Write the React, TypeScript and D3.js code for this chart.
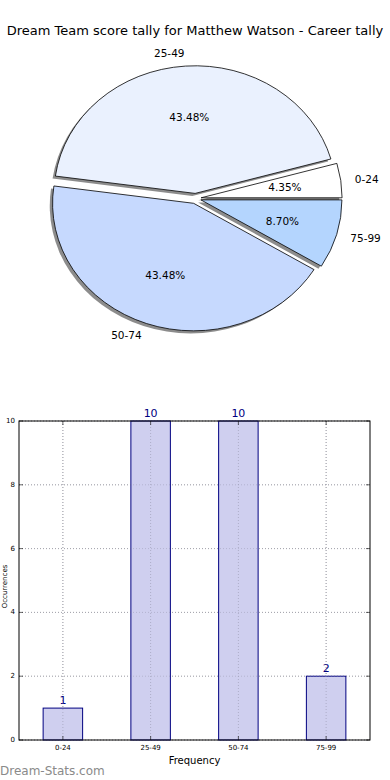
import React from 'react';
import * as d3 from 'd3';

const categories = ['0-24', '25-49', '50-74', '75-99'];
const counts = [1, 10, 10, 2];
const sliceColors = ['#ffffff', '#eaf1fe', '#c6d9fe', '#b4d5fe'];
const yTicks = [0, 2, 4, 6, 8, 10];

const W = 390;
const H = 780;
const FONT = 'DejaVu Sans, sans-serif';

const PieChart: React.FC = () => {
  const cx = 195.5;
  const cy = 198.5;
  const rx = 141;
  const ry = 127.5;
  const explode = 0.04;
  const shadow = 0.02;
  const total = d3.sum(counts);

  // matplotlib style: start at 3 o'clock, counter-clockwise
  const pie = d3.pie<number>().sort(null).startAngle(Math.PI / 2).endAngle(Math.PI / 2 - 2 * Math.PI);
  const arcs = pie(counts);
  const arc = d3.arc<d3.PieArcDatum<number>>().innerRadius(0).outerRadius(1);

  return (
    <g>
      {arcs.map((d, i) => {
        const mid = (d.startAngle + d.endAngle) / 2;
        const dx = Math.sin(mid) * explode * rx;
        const dy = -Math.cos(mid) * explode * ry;
        return (
          <path
            key={'s' + i}
            d={arc(d) || ''}
            transform={`translate(${cx + dx - shadow * rx},${cy + dy + shadow * ry}) scale(${rx},${ry})`}
            fill="#000"
            opacity={0.45}
          />
        );
      })}
      {arcs.map((d, i) => {
        const mid = (d.startAngle + d.endAngle) / 2;
        const dx = Math.sin(mid) * explode * rx;
        const dy = -Math.cos(mid) * explode * ry;
        return (
          <path
            key={'p' + i}
            d={arc(d) || ''}
            transform={`translate(${cx + dx},${cy + dy}) scale(${rx},${ry})`}
            fill={sliceColors[i]}
            stroke="#000"
            strokeWidth={0.8}
            vectorEffect="non-scaling-stroke"
          />
        );
      })}
      {arcs.map((d, i) => {
        const mid = (d.startAngle + d.endAngle) / 2;
        const s = Math.sin(mid);
        const c = -Math.cos(mid);
        const dx = s * explode * rx;
        const dy = c * explode * ry;
        return (
          <g key={'l' + i} fontFamily={FONT} fontSize={10.5} fill="#000">
            <text
              x={cx + dx + 1.1 * rx * s}
              y={cy + dy + 1.1 * ry * c}
              textAnchor={s > 0 ? 'start' : 'end'}
              dominantBaseline="central"
            >
              {categories[i]}
            </text>
            <text
              x={cx + dx + 0.6 * rx * s}
              y={cy + dy + 0.6 * ry * c}
              textAnchor="middle"
              dominantBaseline="central"
            >
              {((counts[i] / total) * 100).toFixed(2) + '%'}
            </text>
          </g>
        );
      })}
    </g>
  );
};

const BarChart: React.FC = () => {
  const left = 19;
  const right = 370;
  const top = 421;
  const bottom = 740;
  const x = d3.scaleLinear().domain([-0.5, 3.5]).range([left, right]);
  const y = d3.scaleLinear().domain([0, 10]).range([bottom, top]);
  const barW = 0.45;

  return (
    <g fontFamily={FONT}>
      {/* grid */}
      {yTicks.map(t => (
        <line key={'gy' + t} x1={left} x2={right} y1={y(t)} y2={y(t)} stroke="#b0b0b0" strokeDasharray="1,2" />
      ))}
      {categories.map((c, i) => (
        <line key={'gx' + c} x1={x(i)} x2={x(i)} y1={top} y2={bottom} stroke="#b0b0b0" strokeDasharray="1,2" />
      ))}
      {/* bars */}
      {counts.map((v, i) => (
        <g key={'b' + i}>
          <rect
            x={x(i - barW / 2)}
            y={y(v)}
            width={x(barW) - x(0)}
            height={y(0) - y(v)}
            fill="#ccccee"
            fillOpacity={0.95}
            stroke="#000080"
            strokeWidth={1}
          />
          <text x={x(i)} y={y(v) - 4} textAnchor="middle" fontSize={11} fill="#000080">
            {v}
          </text>
        </g>
      ))}
      {/* grid shows through the bars */}
      {categories.map((c, i) => (
        <line key={'gx2' + c} x1={x(i)} x2={x(i)} y1={top} y2={bottom} stroke="#9090a8" strokeOpacity={0.5} strokeDasharray="1,2" />
      ))}
      {yTicks.map(t => (
        <line key={'gy2' + t} x1={left} x2={right} y1={y(t)} y2={y(t)} stroke="#9090a8" strokeOpacity={0.4} strokeDasharray="1,2" />
      ))}
      {/* frame */}
      <rect x={left} y={top} width={right - left} height={bottom - top} fill="none" stroke="#000" strokeWidth={1} />
      {/* ticks */}
      {yTicks.map(t => (
        <g key={'ty' + t}>
          <line x1={left} x2={left + 4} y1={y(t)} y2={y(t)} stroke="#000" strokeWidth={0.6} />
          <line x1={right} x2={right - 4} y1={y(t)} y2={y(t)} stroke="#000" strokeWidth={0.6} />
          <text x={left - 4} y={y(t)} textAnchor="end" dominantBaseline="central" fontSize={7} fill="#000">
            {t}
          </text>
        </g>
      ))}
      {categories.map((c, i) => (
        <g key={'tx' + c}>
          <line x1={x(i)} x2={x(i)} y1={bottom} y2={bottom - 4} stroke="#000" strokeWidth={0.6} />
          <line x1={x(i)} x2={x(i)} y1={top} y2={top + 4} stroke="#000" strokeWidth={0.6} />
          <text x={x(i)} y={bottom + 10} textAnchor="middle" fontSize={7} fill="#000">
            {c}
          </text>
        </g>
      ))}
      <text x={(left + right) / 2} y={bottom + 24} textAnchor="middle" fontSize={10} fill="#000">
        Frequency
      </text>
      <text
        transform={`translate(7,${(top + bottom) / 2 + 6}) rotate(-90)`}
        textAnchor="middle"
        fontSize={7}
        fill="#000"
      >
        Occurrences
      </text>
    </g>
  );
};

const App: React.FC = () => {
  return (
    <svg
      width={W}
      height={H}
      style={{ position: 'absolute', left: 0, top: 0, background: '#fff' }}
    >
      <rect width={W} height={H} fill="#fff" />
      <text x={195} y={35} textAnchor="middle" fontFamily={FONT} fontSize={13} fill="#000">
        Dream Team score tally for Matthew Watson - Career tally
      </text>
      <PieChart />
      <BarChart />
      <text x={0} y={775} fontFamily={FONT} fontSize={12} fill="#8a8a8a">
        Dream-Stats.com
      </text>
    </svg>
  );
};

export default App;
